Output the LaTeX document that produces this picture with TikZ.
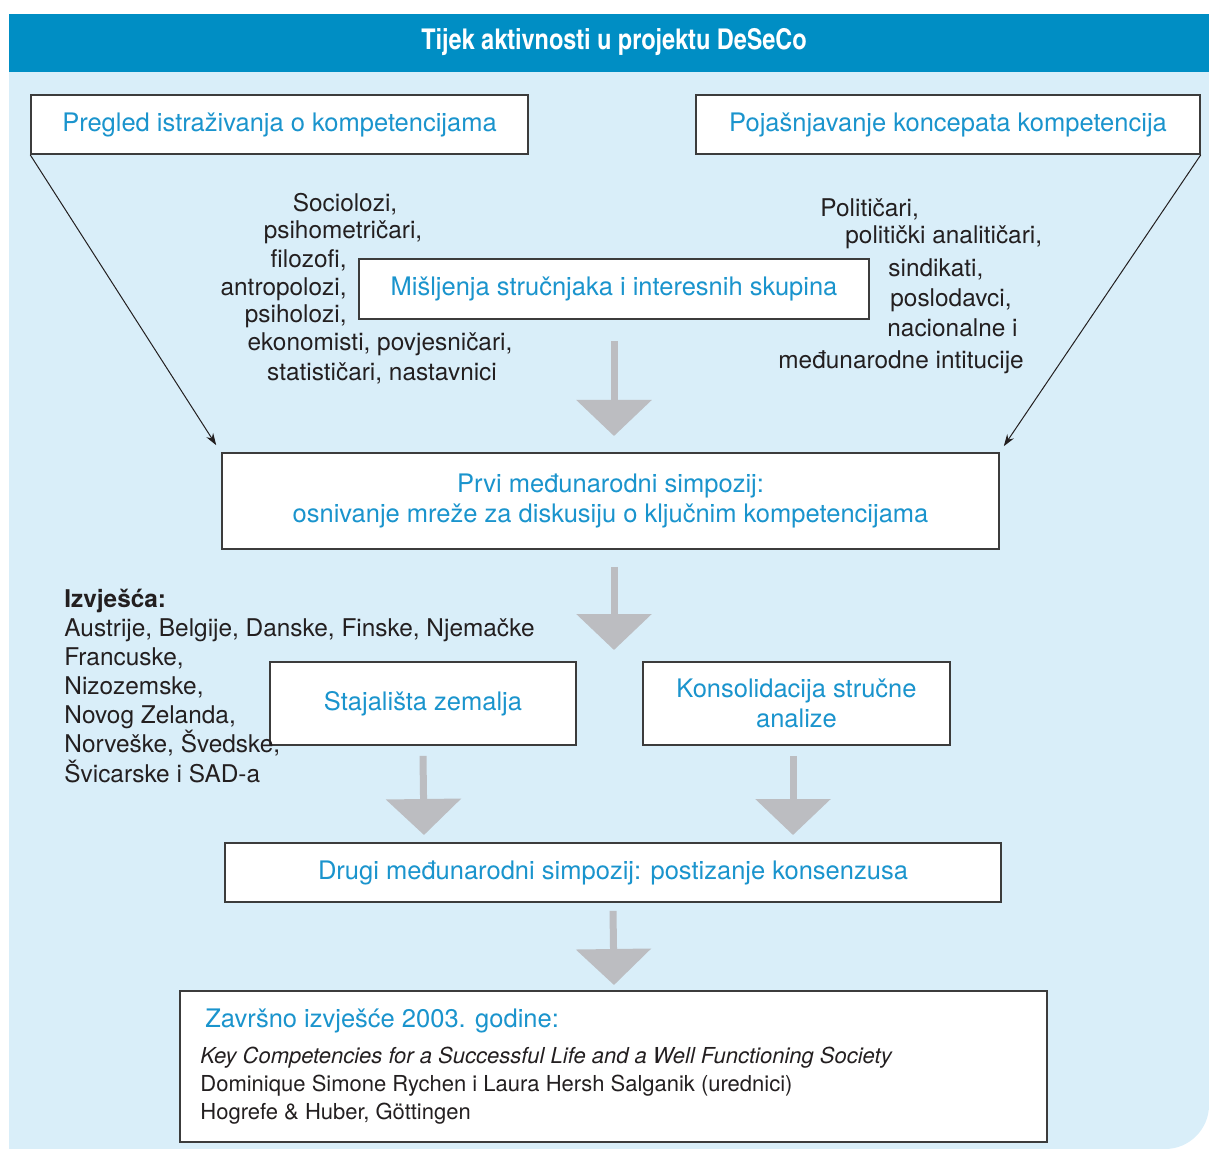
\documentclass[tikz,border=0pt]{standalone}
\usepackage{fontspec}
\setmainfont{texgyreheros}[Extension=.otf,UprightFont=*-regular,BoldFont=*-bold,ItalicFont=*-italic,BoldItalicFont=*-bolditalic]
\newfontfamily\cnfont{texgyreheroscn}[Extension=.otf,UprightFont=*-regular,BoldFont=*-bold]
\usetikzlibrary{arrows.meta}
\definecolor{hdrblue}{HTML}{008EC4}
\definecolor{paleblue}{HTML}{D9EEF9}
\definecolor{txtblue}{HTML}{1A94CD}
\definecolor{arrowgray}{HTML}{BCBDC1}
\definecolor{boxline}{HTML}{3C3C3C}
\definecolor{ink}{HTML}{231F20}
\begin{document}
\begin{tikzpicture}[x=0.5pt,y=-0.5pt,
  box/.style={draw=boxline,line width=0.8pt,fill=white,inner sep=0pt,align=center,text=txtblue,font=\fontsize{12.75}{15.3}\selectfont},
  lbl/.style={inner sep=0pt,text=ink,font=\fontsize{12.2}{14.6}\selectfont},
  fat/.style={draw=arrowgray,line width=3.5pt,-{Triangle[length=18pt,width=37pt]}},
  thinarrow/.style={draw=ink,line width=0.5pt,-{Stealth[length=6pt,width=4pt]}}]
\useasboundingbox (0,0) rectangle (1209,1149);
% background and header
\fill[paleblue] (9,72) -- (1209,72) [rounded corners=22pt] -- (1209,1149) [sharp corners] -- (9,1149) -- cycle;
\fill[hdrblue] (9,14) rectangle (1209,72);
\node[text=white,font=\cnfont\bfseries\fontsize{14.3}{16}\selectfont] (naslov) at (614,42) {Tijek aktivnosti u projektu DeSeCo};
% boxes
\node[box,minimum width=248.5pt,minimum height=29.5pt] (pregled) at (279.5,124.5) {Pregled istraživanja o kompetencijama};
\node[box,minimum width=252pt,minimum height=29.5pt] (pojasn) at (948,124.5) {Pojašnjavanje koncepata kompetencija};
\node[box,minimum width=255pt,minimum height=30pt] (misljenja) at (614,289) {Mišljenja stručnjaka i interesnih skupina};
\node[box,minimum width=388.5pt,minimum height=48pt] (prvi) at (610.5,501) {Prvi međunarodni simpozij:\\osnivanje mreže za diskusiju o ključnim kompetencijama};
\node[box,minimum width=153pt,minimum height=41.5pt] (stajalista) at (423,703.5) {Stajališta zemalja};
\node[box,minimum width=153.5pt,minimum height=41.5pt] (konsol) at (796.5,703.5) {Konsolidacija stručne\\analize};
\node[box,minimum width=388pt,minimum height=29.5pt] (drugi) at (613,872.5) {Drugi međunarodni simpozij: postizanje konsenzusa};
\node[box,minimum width=433.5pt,minimum height=75.5pt] (zavrsno) at (613.5,1066.5) {};
\node[anchor=base west,inner sep=0pt,text=txtblue,font=\fontsize{12.75}{16}\selectfont] (zavnaslov) at (205,1027) {Završno izvješće 2003. godine:};
\node[lbl,anchor=base west,align=left,font=\fontsize{11}{14}\selectfont] (knjiga) at (200,1119) {\itshape Key Competencies for a Successful Life and a Well Functioning Society\\Dominique Simone Rychen i Laura Hersh Salganik (urednici)\\Hogrefe \& Huber, Göttingen};
% gray arrows
\coordinate (tip1) at (614,436);
\coordinate (tip2) at (614,650);
\coordinate (tip3) at (424,835);
\coordinate (tip4) at (793,835);
\coordinate (tip5) at (614,985);
\draw[fat] ([yshift=-10.5pt]misljenja.south) -- (tip1);
\draw[fat] ([xshift=1.75pt,yshift=-8.5pt]prvi.south) -- (tip2);
\draw[fat] ([yshift=-5pt]stajalista.south) -- (tip3);
\draw[fat] ([xshift=-1.75pt,yshift=-5pt]konsol.south) -- (tip4);
\draw[fat] ([yshift=-4pt]drugi.south) -- (tip5);
% thin arrows
\draw[thinarrow] (pregled.south west) -- ([xshift=-2.5pt,yshift=3.5pt]prvi.north west);
\draw[thinarrow] (pojasn.south east) -- ([xshift=2pt,yshift=3pt]prvi.north east);
% experts
\node[lbl,anchor=base] (sociolozi) at (345,212) {Sociolozi,};
\node[lbl,anchor=base] (psihometr) at (343,239) {psihometričari,};
\node[lbl,anchor=base east] (filozofi) at (347,268) {filozofi,};
\node[lbl,anchor=base east] (antropolozi) at (347,296) {antropolozi,};
\node[lbl,anchor=base east] (psiholozi) at (347,323) {psiholozi,};
\node[lbl,anchor=base] (ekonomisti) at (380,351) {ekonomisti, povjesničari,};
\node[lbl,anchor=base] (statisticari) at (382,381) {statističari, nastavnici};
% interest groups
\node[lbl,anchor=base west] (politicari) at (820,217) {Političari,};
\node[lbl,anchor=base west] (analiticari) at (845,244) {politički analitičari,};
\node[lbl,anchor=base west] (sindikati) at (888,277) {sindikati,};
\node[lbl,anchor=base west] (poslodavci) at (890,307) {poslodavci,};
\node[lbl,anchor=base west] (nacionalne) at (887,337) {nacionalne i};
\node[lbl,anchor=base west] (medjunar) at (778,369) {međunarodne intitucije};
% reports
\node[lbl,anchor=base west,font=\bfseries\fontsize{12.2}{14.6}\selectfont] (izvjesca) at (64,607) {Izvješća:};
\node[lbl,anchor=base west,align=left] (zemlje) at (64,782) {Austrije, Belgije, Danske, Finske, Njemačke\\Francuske,\\Nizozemske,\\Novog Zelanda,\\Norveške, Švedske,\\Švicarske i SAD-a};
\end{tikzpicture}
\end{document}
